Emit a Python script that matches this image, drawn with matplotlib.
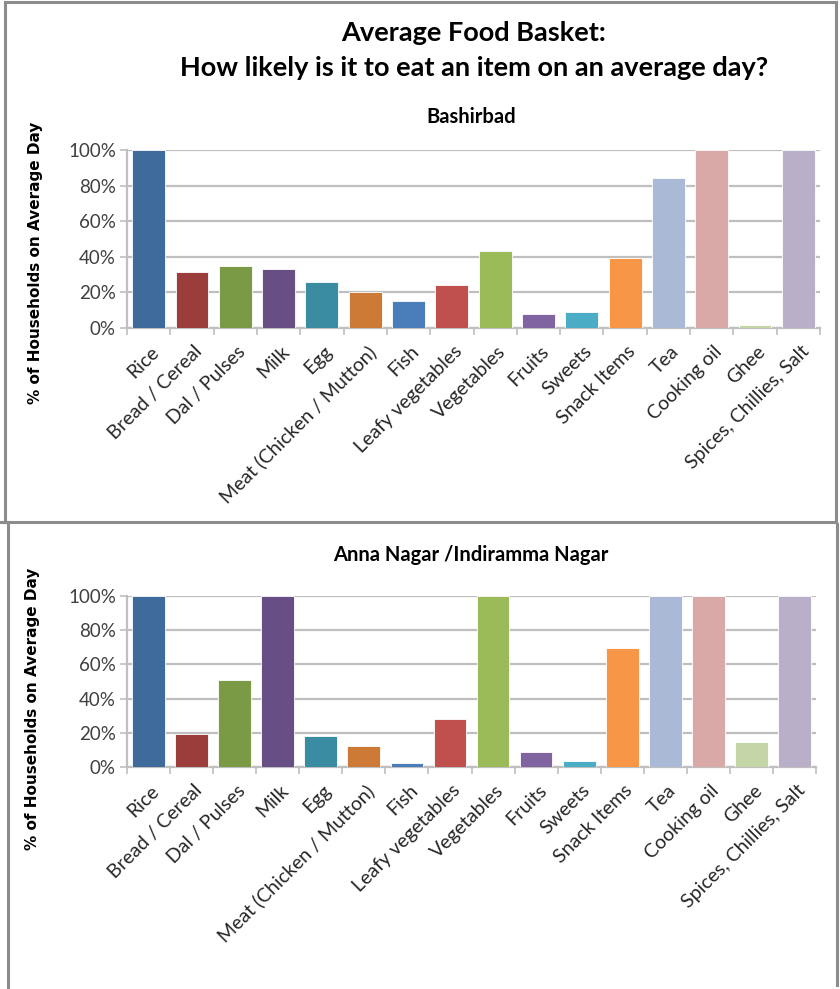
import matplotlib
matplotlib.use('Agg')
import matplotlib.pyplot as plt
from matplotlib.lines import Line2D
import numpy as np

# Data
items = ['Rice', 'Bread / Cereal', 'Dal / Pulses', 'Milk', 'Egg',
         'Meat (Chicken / Mutton)', 'Fish', 'Leafy vegetables', 'Vegetables',
         'Fruits', 'Sweets', 'Snack Items', 'Tea', 'Cooking oil', 'Ghee',
         'Spices, Chillies, Salt']
bashirbad = [100, 31.5, 35, 33, 26, 20.5, 15, 24, 43, 8, 9, 39.5, 84, 100, 1.5, 100]
anna_nagar = [100, 19.5, 51, 100, 18, 12, 2.5, 28, 100, 9, 3.5, 69.5, 100, 100, 14.5, 100]
bar_colors = ['#3F6A9C', '#9B3D3B', '#7B9A45', '#674F86', '#3A8CA3', '#CC7A35',
              '#4A7EBB', '#C0504D', '#9BBB59', '#8064A2', '#4BACC6', '#F79646',
              '#AAB9D6', '#D9A9A8', '#C4D6A8', '#B9AFC9']

W, H = 840, 989
fig = plt.figure(figsize=(W / 100, H / 100), dpi=100)
fig.patch.set_facecolor('white')


def px(x, y):
    return x / W, 1 - y / H


def panel(rect, values):
    left, top, right, bottom = rect
    ax = fig.add_axes([left / W, 1 - bottom / H, (right - left) / W, (bottom - top) / H])
    x = np.arange(len(items))
    ax.bar(x, values, width=0.76, color=bar_colors, edgecolor='white',
           linewidth=0.6, zorder=3)
    ax.set_xlim(-0.5, len(items) - 0.5)
    ax.set_ylim(0, 100)
    ax.set_yticks(np.arange(0, 101, 20))
    ax.set_yticklabels([f'{v}%' for v in range(0, 101, 20)],
                       fontsize=13.5, color='#404040', family='Lato')
    ax.yaxis.grid(True, color='#BFBFBF', linewidth=1.6, zorder=0)
    ax.set_axisbelow(True)
    # category boundaries get the tick marks
    ax.set_xticks(np.arange(-0.5, len(items)), minor=False)
    ax.set_xticklabels([])
    ax.tick_params(axis='x', length=5, color='#BFBFBF', width=1.2)
    ax.tick_params(axis='y', length=5, color='#BFBFBF', width=1.2, pad=3)
    for s in ['top', 'right']:
        ax.spines[s].set_visible(False)
    for s in ['left', 'bottom']:
        ax.spines[s].set_color('#BFBFBF')
        ax.spines[s].set_linewidth(1.6)
    for i, lab in enumerate(items):
        ax.annotate(lab, xy=(i + 0.18, 0), xycoords=('data', 'data'),
                    xytext=(0, -15), textcoords='offset points',
                    rotation=45, ha='right', va='center', rotation_mode='anchor',
                    fontsize=14, color='#262626', family='Lato')
    return ax


ax1 = panel((127, 150, 820, 328), bashirbad)
ax2 = panel((127, 596, 816, 767), anna_nagar)

# titles
fig.text(*px(474, 33), 'Average Food Basket:', ha='center', va='center',
         fontsize=19.5, fontweight='bold', family='Lato')
fig.text(*px(474, 68), 'How likely is it to eat an item on an average day?',
         ha='center', va='center', fontsize=19.5, fontweight='bold', family='Lato')
fig.text(*px(471, 117), 'Bashirbad', ha='center', va='center',
         fontsize=14.5, fontweight='bold', family='Lato')
fig.text(*px(471, 555), 'Anna Nagar /Indiramma Nagar', ha='center', va='center',
         fontsize=14.5, fontweight='bold', family='Lato')

ylab = '% of Households on Average Day'
fig.text(*px(36, 263), ylab, rotation=90, ha='center', va='center',
         fontsize=11, fontweight='bold', family='DejaVu Sans')
fig.text(*px(33, 709), ylab, rotation=90, ha='center', va='center',
         fontsize=11, fontweight='bold', family='DejaVu Sans')

# panel frames
frame = dict(color='#8C8C8C', linewidth=2.2)
for (x0, y0), (x1, y1) in [((5, 2), (836, 2)), ((5, 2), (5, 522)),
                           ((836, 2), (836, 522)), ((0, 522), (836, 522)),
                           ((8, 522), (8, 989)), ((837, 524), (837, 985))]:
    a, b = px(x0, y0)
    c, d = px(x1, y1)
    fig.add_artist(Line2D([a, c], [b, d], **frame))

plt.savefig('out.png', dpi=100, facecolor='white')
